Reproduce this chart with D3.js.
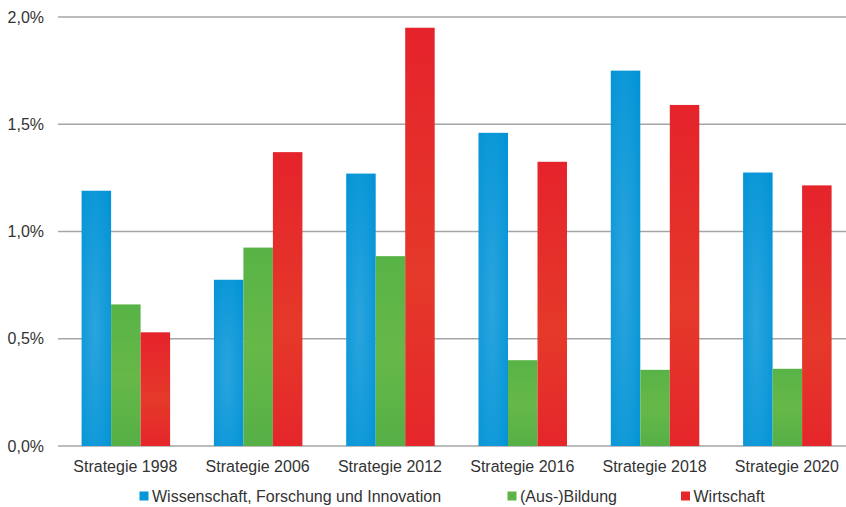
<!DOCTYPE html>
<html><head><meta charset="utf-8">
<script src="https://cdn.jsdelivr.net/npm/d3@7"></script>
<style>body{margin:0;background:#fff}svg{display:block;font-family:"Liberation Sans",Arial,sans-serif}</style>
</head><body><svg id="c" width="846" height="507"></svg>
<script>
const categories = ["Strategie 1998","Strategie 2006","Strategie 2012","Strategie 2016","Strategie 2018","Strategie 2020"];
const seriesNames = ["Wissenschaft, Forschung und Innovation","(Aus-)Bildung","Wirtschaft"];
const wissenschaft = [1.19,0.775,1.27,1.46,1.75,1.275];
const bildung = [0.66,0.925,0.885,0.40,0.355,0.36];
const wirtschaft = [0.53,1.37,1.95,1.325,1.59,1.215];
const tickValues = [0,0.5,1.0,1.5,2.0];
const tickLabels = ["0,0%","0,5%","1,0%","1,5%","2,0%"];
const colors = ["#0796d7","#5cb447","#e5272b"];

const series = [wissenschaft,bildung,wirtschaft];
const svg = d3.select("#c");
const defs = svg.append("defs");
const gb = defs.append("radialGradient").attr("id","g0").attr("cx","0.45").attr("cy","0.55").attr("r","0.7");
gb.append("stop").attr("offset","0").attr("stop-color","#2aa4de");
gb.append("stop").attr("offset","1").attr("stop-color","#0494d6");
const gg = defs.append("linearGradient").attr("id","g1").attr("x1",0).attr("y1",0).attr("x2",0).attr("y2",1);
gg.append("stop").attr("offset","0").attr("stop-color","#58b346");
gg.append("stop").attr("offset","0.5").attr("stop-color","#66b848");
gg.append("stop").attr("offset","1").attr("stop-color","#56b046");
const gr = defs.append("linearGradient").attr("id","g2").attr("x1",0).attr("y1",0).attr("x2",0).attr("y2",1);
gr.append("stop").attr("offset","0").attr("stop-color","#e5232b");
gr.append("stop").attr("offset","0.6").attr("stop-color","#e5392a");
gr.append("stop").attr("offset","1").attr("stop-color","#e5262b");

const x0 = d3.scaleBand().domain(categories).range([59.7,853.5]).paddingInner(0.331).paddingOuter(0.1655);
const x1 = d3.scaleBand().domain(seriesNames).range([0,x0.bandwidth()]);
const y = d3.scaleLinear().domain([0,2]).range([446,17]);

// grid
svg.append("g").selectAll("line").data(tickValues).join("line")
  .attr("x1",58).attr("x2",846).attr("y1",d=>y(d)).attr("y2",d=>y(d))
  .attr("stroke","#a3a6a8").attr("stroke-width",1.5);

// y labels
svg.append("g").selectAll("text").data(tickValues).join("text")
  .attr("x",44).attr("y",d=>y(d)).attr("dy","0.35em").attr("text-anchor","end")
  .attr("font-size",16).attr("fill","#333").text((d,i)=>tickLabels[i]);

// bars
const groups = svg.append("g").selectAll("g").data(categories).join("g")
  .attr("transform",d=>`translate(${x0(d)},0)`);
groups.selectAll("rect").data((c,ci)=>series.map((s,si)=>({name:seriesNames[si],v:s[ci],si})))
  .join("rect")
  .attr("x",d=>x1(d.name)).attr("width",x1.bandwidth())
  .attr("y",d=>y(d.v)).attr("height",d=>y(0)-y(d.v))
  .attr("fill",d=>`url(#g${d.si})`);

// x labels
svg.append("g").selectAll("text").data(categories).join("text")
  .attr("x",d=>x0(d)+x0.bandwidth()/2-0.5).attr("y",466).attr("dy","0.35em")
  .attr("text-anchor","middle").attr("font-size",16).attr("fill","#333").text(d=>d);

// legend
const legX = [139.5,507.5,681];
const leg = svg.append("g").selectAll("g").data(seriesNames).join("g")
  .attr("transform",(d,i)=>`translate(${legX[i]},496)`);
leg.append("rect").attr("x",0).attr("y",-4.5).attr("width",9).attr("height",9).attr("fill",(d,i)=>colors[i]);
leg.append("text").attr("x",12.5).attr("y",0).attr("dy","0.35em").attr("font-size",16).attr("fill","#333").text(d=>d);
</script></body></html>
